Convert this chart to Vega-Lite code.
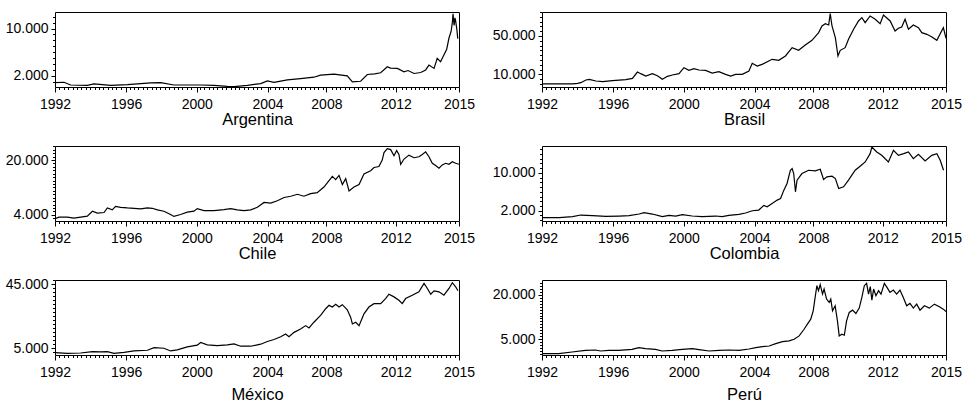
{
"$schema": "https://vega.github.io/schema/vega-lite/v6.json",
"background": "white",
"padding": {"left": 4, "top": 4, "right": 5, "bottom": 2},
"datasets": {
"arg": [{"year":1992.00,"valor":858},{"year":1992.51,"valor":915},{"year":1992.89,"valor":458},{"year":1993.84,"valor":400},{"year":1994.22,"valor":630},{"year":1995.17,"valor":400},{"year":1996.12,"valor":515},{"year":1997.45,"valor":800},{"year":1998.02,"valor":858},{"year":1998.77,"valor":458},{"year":1999.53,"valor":458},{"year":2000.29,"valor":458},{"year":2001.05,"valor":400},{"year":2001.81,"valor":230},{"year":2002.19,"valor":173},{"year":2002.95,"valor":400},{"year":2003.71,"valor":687},{"year":2004.09,"valor":1143},{"year":2004.47,"valor":915},{"year":2005.23,"valor":1315},{"year":2005.98,"valor":1543},{"year":2006.74,"valor":1772},{"year":2007.12,"valor":2114},{"year":2007.88,"valor":2286},{"year":2008.64,"valor":2000},{"year":2008.93,"valor":972},{"year":2009.40,"valor":1086},{"year":2009.78,"valor":2228},{"year":2010.20,"valor":2350},{"year":2010.54,"valor":2514},{"year":2010.92,"valor":3542},{"year":2011.10,"valor":3300},{"year":2011.49,"valor":3256},{"year":2011.87,"valor":2685},{"year":2012.10,"valor":2900},{"year":2012.44,"valor":2400},{"year":2012.82,"valor":2571},{"year":2013.10,"valor":3000},{"year":2013.29,"valor":3827},{"year":2013.58,"valor":3256},{"year":2013.76,"valor":4969},{"year":2013.95,"valor":4400},{"year":2014.14,"valor":5540},{"year":2014.30,"valor":6500},{"year":2014.43,"valor":8395},{"year":2014.55,"valor":9500},{"year":2014.62,"valor":11000},{"year":2014.66,"valor":12506},{"year":2014.72,"valor":10500},{"year":2014.77,"valor":11800},{"year":2014.81,"valor":11250},{"year":2014.88,"valor":9800},{"year":2014.93,"valor":8300}],
"bra": [{"year":1992.00,"valor":50},{"year":1992.98,"valor":60},{"year":1993.74,"valor":150},{"year":1994.03,"valor":500},{"year":1994.21,"valor":1300},{"year":1994.50,"valor":4090},{"year":1994.69,"valor":4780},{"year":1995.07,"valor":3040},{"year":1995.45,"valor":2350},{"year":1996.01,"valor":3390},{"year":1996.77,"valor":4430},{"year":1997.15,"valor":5830},{"year":1997.43,"valor":12430},{"year":1997.62,"valor":10700},{"year":1997.91,"valor":8260},{"year":1998.28,"valor":10700},{"year":1998.57,"valor":8610},{"year":1998.85,"valor":4780},{"year":1999.14,"valor":7910},{"year":1999.42,"valor":9300},{"year":1999.80,"valor":10700},{"year":2000.08,"valor":16960},{"year":2000.37,"valor":14170},{"year":2000.65,"valor":15910},{"year":2000.93,"valor":14520},{"year":2001.31,"valor":14170},{"year":2001.69,"valor":11390},{"year":2002.07,"valor":12780},{"year":2002.45,"valor":10000},{"year":2002.74,"valor":8260},{"year":2003.02,"valor":10000},{"year":2003.40,"valor":10000},{"year":2003.78,"valor":13480},{"year":2003.97,"valor":21480},{"year":2004.25,"valor":18700},{"year":2004.53,"valor":20430},{"year":2004.91,"valor":23910},{"year":2005.10,"valor":25650},{"year":2005.48,"valor":24610},{"year":2005.86,"valor":29130},{"year":2006.24,"valor":37820},{"year":2006.61,"valor":35040},{"year":2006.99,"valor":40610},{"year":2007.37,"valor":45480},{"year":2007.75,"valor":53480},{"year":2007.94,"valor":60430},{"year":2008.13,"valor":62870},{"year":2008.32,"valor":61470},{"year":2008.41,"valor":73300},{"year":2008.51,"valor":60430},{"year":2008.70,"valor":48260},{"year":2008.85,"valor":29130},{"year":2008.98,"valor":35040},{"year":2009.26,"valor":37820},{"year":2009.45,"valor":46520},{"year":2009.74,"valor":56950},{"year":2010.02,"valor":65650},{"year":2010.21,"valor":69130},{"year":2010.40,"valor":63910},{"year":2010.68,"valor":70870},{"year":2010.97,"valor":67390},{"year":2011.25,"valor":62870},{"year":2011.44,"valor":71910},{"year":2011.82,"valor":65650},{"year":2012.10,"valor":55210},{"year":2012.29,"valor":58000},{"year":2012.48,"valor":59390},{"year":2012.67,"valor":67390},{"year":2012.86,"valor":56950},{"year":2013.14,"valor":61470},{"year":2013.43,"valor":58690},{"year":2013.62,"valor":53480},{"year":2013.91,"valor":51740},{"year":2014.20,"valor":48950},{"year":2014.48,"valor":45480},{"year":2014.75,"valor":55210},{"year":2014.85,"valor":58690},{"year":2015.00,"valor":47560}],
"chi": [{"year":1992.00,"valor":2860},{"year":1992.23,"valor":3330},{"year":1992.70,"valor":3330},{"year":1993.08,"valor":3050},{"year":1993.46,"valor":3330},{"year":1993.84,"valor":3620},{"year":1994.13,"valor":5050},{"year":1994.41,"valor":4480},{"year":1994.79,"valor":4670},{"year":1994.98,"valor":6000},{"year":1995.26,"valor":5430},{"year":1995.45,"valor":6480},{"year":1995.74,"valor":6190},{"year":1996.12,"valor":6000},{"year":1996.50,"valor":5900},{"year":1996.88,"valor":5710},{"year":1997.26,"valor":6000},{"year":1997.54,"valor":5900},{"year":1997.83,"valor":5430},{"year":1998.20,"valor":5050},{"year":1998.58,"valor":4100},{"year":1998.77,"valor":3520},{"year":1999.15,"valor":4100},{"year":1999.53,"valor":4760},{"year":1999.91,"valor":5050},{"year":2000.10,"valor":5810},{"year":2000.48,"valor":5240},{"year":2001.05,"valor":5240},{"year":2001.62,"valor":5520},{"year":2002.00,"valor":5810},{"year":2002.38,"valor":5430},{"year":2002.76,"valor":5240},{"year":2003.14,"valor":5430},{"year":2003.52,"valor":6190},{"year":2003.90,"valor":7620},{"year":2004.28,"valor":7430},{"year":2004.66,"valor":8100},{"year":2005.04,"valor":9050},{"year":2005.42,"valor":9430},{"year":2005.80,"valor":10000},{"year":2006.17,"valor":9430},{"year":2006.55,"valor":10190},{"year":2006.93,"valor":10480},{"year":2007.31,"valor":12100},{"year":2007.60,"valor":14000},{"year":2007.79,"valor":15240},{"year":2007.98,"valor":14290},{"year":2008.17,"valor":15520},{"year":2008.36,"valor":12860},{"year":2008.55,"valor":14570},{"year":2008.74,"valor":10950},{"year":2009.02,"valor":12100},{"year":2009.31,"valor":12860},{"year":2009.59,"valor":15900},{"year":2009.97,"valor":16860},{"year":2010.16,"valor":17810},{"year":2010.44,"valor":18100},{"year":2010.63,"valor":20000},{"year":2010.73,"valor":22190},{"year":2010.92,"valor":23330},{"year":2011.11,"valor":23050},{"year":2011.30,"valor":21240},{"year":2011.45,"valor":22760},{"year":2011.58,"valor":21620},{"year":2011.68,"valor":18760},{"year":2011.87,"valor":20290},{"year":2012.15,"valor":21430},{"year":2012.44,"valor":20670},{"year":2012.72,"valor":20950},{"year":2012.91,"valor":21620},{"year":2013.10,"valor":22380},{"year":2013.29,"valor":20950},{"year":2013.48,"valor":19050},{"year":2013.67,"valor":18380},{"year":2013.86,"valor":17620},{"year":2014.05,"valor":18570},{"year":2014.24,"valor":19050},{"year":2014.43,"valor":18760},{"year":2014.62,"valor":19520},{"year":2014.81,"valor":19050},{"year":2015.00,"valor":18760}],
"col": [{"year":1992.00,"valor":526},{"year":1992.98,"valor":526},{"year":1993.74,"valor":737},{"year":1994.21,"valor":1088},{"year":1994.88,"valor":947},{"year":1995.63,"valor":807},{"year":1996.39,"valor":877},{"year":1996.96,"valor":947},{"year":1997.53,"valor":1298},{"year":1997.81,"valor":1579},{"year":1998.28,"valor":1298},{"year":1998.85,"valor":737},{"year":1999.23,"valor":1017},{"year":1999.61,"valor":877},{"year":1999.99,"valor":1158},{"year":2000.55,"valor":877},{"year":2001.12,"valor":737},{"year":2001.88,"valor":877},{"year":2002.26,"valor":737},{"year":2002.64,"valor":1017},{"year":2003.21,"valor":1228},{"year":2003.59,"valor":1509},{"year":2003.97,"valor":2000},{"year":2004.34,"valor":2140},{"year":2004.63,"valor":3123},{"year":2004.82,"valor":2842},{"year":2005.10,"valor":3544},{"year":2005.39,"valor":4246},{"year":2005.58,"valor":4597},{"year":2005.77,"valor":6351},{"year":2005.95,"valor":7755},{"year":2006.14,"valor":10562},{"year":2006.24,"valor":10913},{"year":2006.33,"valor":9860},{"year":2006.43,"valor":6000},{"year":2006.52,"valor":8457},{"year":2006.80,"valor":9860},{"year":2007.18,"valor":10562},{"year":2007.56,"valor":10422},{"year":2007.84,"valor":10773},{"year":2008.03,"valor":8597},{"year":2008.22,"valor":9158},{"year":2008.51,"valor":9299},{"year":2008.70,"valor":8807},{"year":2008.89,"valor":6702},{"year":2009.17,"valor":7053},{"year":2009.45,"valor":8457},{"year":2009.83,"valor":10562},{"year":2010.11,"valor":11404},{"year":2010.40,"valor":12316},{"year":2010.68,"valor":14071},{"year":2010.78,"valor":15475},{"year":2011.06,"valor":14422},{"year":2011.34,"valor":13720},{"year":2011.72,"valor":12316},{"year":2012.01,"valor":14773},{"year":2012.29,"valor":13720},{"year":2012.59,"valor":14071},{"year":2012.86,"valor":14422},{"year":2013.14,"valor":13018},{"year":2013.43,"valor":13931},{"year":2013.81,"valor":12527},{"year":2014.19,"valor":13720},{"year":2014.48,"valor":14071},{"year":2014.67,"valor":12667},{"year":2014.86,"valor":10562}],
"mex": [{"year":1992.00,"valor":2260},{"year":1992.70,"valor":1840},{"year":1993.46,"valor":2050},{"year":1994.13,"valor":2900},{"year":1994.60,"valor":2680},{"year":1994.98,"valor":2900},{"year":1995.36,"valor":1840},{"year":1995.93,"valor":2470},{"year":1996.50,"valor":3320},{"year":1997.26,"valor":3740},{"year":1997.64,"valor":5420},{"year":1998.20,"valor":5000},{"year":1998.58,"valor":3320},{"year":1998.96,"valor":3950},{"year":1999.53,"valor":5840},{"year":2000.10,"valor":6890},{"year":2000.29,"valor":8580},{"year":2000.67,"valor":7110},{"year":2001.24,"valor":6680},{"year":2001.81,"valor":7110},{"year":2002.19,"valor":7740},{"year":2002.57,"valor":6260},{"year":2003.14,"valor":6260},{"year":2003.71,"valor":7530},{"year":2004.09,"valor":9210},{"year":2004.47,"valor":10470},{"year":2004.85,"valor":12160},{"year":2005.13,"valor":13840},{"year":2005.32,"valor":12160},{"year":2005.61,"valor":14890},{"year":2005.98,"valor":17000},{"year":2006.27,"valor":19100},{"year":2006.46,"valor":17630},{"year":2006.74,"valor":21210},{"year":2007.12,"valor":25420},{"year":2007.41,"valor":29630},{"year":2007.60,"valor":31730},{"year":2007.79,"valor":30680},{"year":2007.98,"valor":32370},{"year":2008.17,"valor":30680},{"year":2008.36,"valor":32150},{"year":2008.64,"valor":29000},{"year":2008.83,"valor":24370},{"year":2008.93,"valor":20160},{"year":2009.12,"valor":21210},{"year":2009.31,"valor":19100},{"year":2009.59,"valor":26470},{"year":2009.87,"valor":30680},{"year":2010.16,"valor":32790},{"year":2010.54,"valor":32790},{"year":2010.82,"valor":35940},{"year":2011.01,"valor":38680},{"year":2011.30,"valor":37000},{"year":2011.58,"valor":34890},{"year":2011.77,"valor":32790},{"year":2011.96,"valor":35940},{"year":2012.34,"valor":38050},{"year":2012.72,"valor":40150},{"year":2013.01,"valor":45420},{"year":2013.20,"valor":42260},{"year":2013.39,"valor":38680},{"year":2013.58,"valor":40790},{"year":2013.86,"valor":40150},{"year":2014.14,"valor":38050},{"year":2014.43,"valor":42260},{"year":2014.62,"valor":45840},{"year":2014.81,"valor":43310},{"year":2014.94,"valor":40790}],
"per": [{"year":1992.00,"valor":150},{"year":1992.95,"valor":150},{"year":1993.71,"valor":710},{"year":1994.47,"valor":1280},{"year":1995.04,"valor":1390},{"year":1995.33,"valor":1050},{"year":1995.80,"valor":1280},{"year":1996.37,"valor":1280},{"year":1997.13,"valor":1620},{"year":1997.51,"valor":2180},{"year":1997.89,"valor":1840},{"year":1998.46,"valor":1620},{"year":1998.84,"valor":1050},{"year":1999.41,"valor":1280},{"year":1999.98,"valor":1620},{"year":2000.56,"valor":1840},{"year":2000.94,"valor":1500},{"year":2001.51,"valor":1050},{"year":2002.08,"valor":1280},{"year":2002.65,"valor":1390},{"year":2003.22,"valor":1280},{"year":2003.79,"valor":1730},{"year":2004.17,"valor":2180},{"year":2004.55,"valor":2520},{"year":2004.93,"valor":2740},{"year":2005.31,"valor":3530},{"year":2005.69,"valor":4210},{"year":2006.07,"valor":4440},{"year":2006.35,"valor":5000},{"year":2006.64,"valor":6130},{"year":2006.92,"valor":8380},{"year":2007.11,"valor":10080},{"year":2007.30,"valor":11770},{"year":2007.44,"valor":14590},{"year":2007.55,"valor":19100},{"year":2007.65,"valor":23050},{"year":2007.74,"valor":21360},{"year":2007.84,"valor":23390},{"year":2007.97,"valor":20230},{"year":2008.06,"valor":21920},{"year":2008.20,"valor":18540},{"year":2008.35,"valor":17410},{"year":2008.44,"valor":18540},{"year":2008.54,"valor":14590},{"year":2008.69,"valor":16280},{"year":2008.82,"valor":11200},{"year":2008.92,"valor":6130},{"year":2009.07,"valor":6690},{"year":2009.21,"valor":6350},{"year":2009.34,"valor":11200},{"year":2009.49,"valor":14020},{"year":2009.68,"valor":14810},{"year":2009.87,"valor":13690},{"year":2010.06,"valor":15490},{"year":2010.21,"valor":19100},{"year":2010.35,"valor":23050},{"year":2010.48,"valor":23840},{"year":2010.59,"valor":20230},{"year":2010.69,"valor":22720},{"year":2010.78,"valor":18200},{"year":2010.88,"valor":21920},{"year":2011.01,"valor":19660},{"year":2011.16,"valor":21360},{"year":2011.30,"valor":20230},{"year":2011.49,"valor":23840},{"year":2011.64,"valor":22490},{"year":2011.81,"valor":20790},{"year":2012.00,"valor":21580},{"year":2012.19,"valor":20230},{"year":2012.38,"valor":21580},{"year":2012.57,"valor":19100},{"year":2012.76,"valor":16280},{"year":2012.95,"valor":17070},{"year":2013.14,"valor":15490},{"year":2013.33,"valor":16840},{"year":2013.52,"valor":14810},{"year":2013.77,"valor":16280},{"year":2014.05,"valor":15490},{"year":2014.34,"valor":16840},{"year":2014.62,"valor":15940},{"year":2014.85,"valor":15150},{"year":2015.00,"valor":14360}]
},
"columns": 2,
"spacing": {"row": 59, "column": 83},
"bounds": "flush",
"concat": [
   {"width": 404, "height": 75, "data": {"name": "arg"},
    "mark": {"type": "line", "color": "#000", "strokeWidth": 1.2, "clip": true},
    "encoding": {
     "x": {"field": "year", "type": "quantitative", "scale": {"domain": [1992, 2015], "nice": false, "zero": false},
      "axis": {"title": "Argentina", "titlePadding": 0, "labelPadding": 5.5,
       "values": [1992,1992.25,1992.5,1992.75,1993,1993.25,1993.5,1993.75,1994,1994.25,1994.5,1994.75,1995,1995.25,1995.5,1995.75,1996.05,1996.25,1996.5,1996.75,1997,1997.25,1997.5,1997.75,1998,1998.25,1998.5,1998.75,1999,1999.25,1999.5,1999.75,2000.07,2000.25,2000.5,2000.75,2001,2001.25,2001.5,2001.75,2002,2002.25,2002.5,2002.75,2003,2003.25,2003.5,2003.75,2004.1,2004.25,2004.5,2004.75,2005,2005.25,2005.5,2005.75,2006,2006.25,2006.5,2006.75,2007,2007.25,2007.45,2007.75,2008,2008.25,2008.5,2008.75,2009,2009.25,2009.5,2009.75,2010,2010.25,2010.5,2010.75,2011,2011.25,2011.4,2011.75,2012,2012.25,2012.5,2012.75,2013,2013.25,2013.5,2013.75,2014,2014.25,2014.5,2014.75,2015],
       "labelExpr": "datum.value == 1992 ? '1992' : datum.value == 1996.05 ? '1996' : datum.value == 2000.07 ? '2000' : datum.value == 2004.1 ? '2004' : datum.value == 2007.45 ? '2008' : datum.value == 2011.4 ? '2012' : datum.value == 2015 ? '2015' : ''",
       "tickSize": {"condition": {"test": "datum.value == 1992 || datum.value == 1996.05 || datum.value == 2000.07 || datum.value == 2004.1 || datum.value == 2007.45 || datum.value == 2011.4 || datum.value == 2015", "value": 5}, "value": 2.5}}},
     "y": {"field": "valor", "type": "quantitative", "scale": {"domain": [116, 12790], "nice": false, "zero": false},
      "axis": {"title": null, "values": [1000,2000,3000,4000,5000,6000,7000,8000,9000,10000,11000,12000],
       "labelExpr": "datum.value == 2000 || datum.value == 10000 ? replace(format(datum.value, ',d'), ',', '.') : ''",
       "tickSize": {"condition": {"test": "datum.value == 2000 || datum.value == 10000", "value": 4}, "value": 2.5}}}
    }},
   {"width": 404, "height": 75, "data": {"name": "bra"},
    "mark": {"type": "line", "color": "#000", "strokeWidth": 1.2, "clip": true},
    "encoding": {
     "x": {"field": "year", "type": "quantitative", "scale": {"domain": [1992, 2015], "nice": false, "zero": false},
      "axis": {"title": "Brasil", "titlePadding": 0, "labelPadding": 5.5,
       "values": [1992,1992.25,1992.5,1992.75,1993,1993.25,1993.5,1993.75,1994,1994.25,1994.5,1994.75,1995,1995.25,1995.5,1995.75,1996.05,1996.25,1996.5,1996.75,1997,1997.25,1997.5,1997.75,1998,1998.25,1998.5,1998.75,1999,1999.25,1999.5,1999.75,2000.07,2000.25,2000.5,2000.75,2001,2001.25,2001.5,2001.75,2002,2002.25,2002.5,2002.75,2003,2003.25,2003.5,2003.75,2004.1,2004.25,2004.5,2004.75,2005,2005.25,2005.5,2005.75,2006,2006.25,2006.5,2006.75,2007,2007.25,2007.45,2007.75,2008,2008.25,2008.5,2008.75,2009,2009.25,2009.5,2009.75,2010,2010.25,2010.5,2010.75,2011,2011.25,2011.4,2011.75,2012,2012.25,2012.5,2012.75,2013,2013.25,2013.5,2013.75,2014,2014.25,2014.5,2014.75,2015],
       "labelExpr": "datum.value == 1992 ? '1992' : datum.value == 1996.05 ? '1996' : datum.value == 2000.07 ? '2000' : datum.value == 2004.1 ? '2004' : datum.value == 2007.45 ? '2008' : datum.value == 2011.4 ? '2012' : datum.value == 2015 ? '2015' : ''",
       "tickSize": {"condition": {"test": "datum.value == 1992 || datum.value == 1996.05 || datum.value == 2000.07 || datum.value == 2004.1 || datum.value == 2007.45 || datum.value == 2011.4 || datum.value == 2015", "value": 5}, "value": 2.5}}},
     "y": {"field": "valor", "type": "quantitative", "scale": {"domain": [-3200, 75000], "nice": false, "zero": false},
      "axis": {"title": null, "values": [0,5000,10000,15000,20000,25000,30000,35000,40000,45000,50000,55000,60000,65000,70000,75000],
       "labelExpr": "datum.value == 10000 || datum.value == 50000 ? replace(format(datum.value, ',d'), ',', '.') : ''",
       "tickSize": {"condition": {"test": "datum.value == 10000 || datum.value == 50000", "value": 4}, "value": 2.5}}}
    }},
   {"width": 404, "height": 75, "data": {"name": "chi"},
    "mark": {"type": "line", "color": "#000", "strokeWidth": 1.2, "clip": true},
    "encoding": {
     "x": {"field": "year", "type": "quantitative", "scale": {"domain": [1992, 2015], "nice": false, "zero": false},
      "axis": {"title": "Chile", "titlePadding": 0, "labelPadding": 5.5,
       "values": [1992,1992.25,1992.5,1992.75,1993,1993.25,1993.5,1993.75,1994,1994.25,1994.5,1994.75,1995,1995.25,1995.5,1995.75,1996.05,1996.25,1996.5,1996.75,1997,1997.25,1997.5,1997.75,1998,1998.25,1998.5,1998.75,1999,1999.25,1999.5,1999.75,2000.07,2000.25,2000.5,2000.75,2001,2001.25,2001.5,2001.75,2002,2002.25,2002.5,2002.75,2003,2003.25,2003.5,2003.75,2004.1,2004.25,2004.5,2004.75,2005,2005.25,2005.5,2005.75,2006,2006.25,2006.5,2006.75,2007,2007.25,2007.45,2007.75,2008,2008.25,2008.5,2008.75,2009,2009.25,2009.5,2009.75,2010,2010.25,2010.5,2010.75,2011,2011.25,2011.4,2011.75,2012,2012.25,2012.5,2012.75,2013,2013.25,2013.5,2013.75,2014,2014.25,2014.5,2014.75,2015],
       "labelExpr": "datum.value == 1992 ? '1992' : datum.value == 1996.05 ? '1996' : datum.value == 2000.07 ? '2000' : datum.value == 2004.1 ? '2004' : datum.value == 2007.45 ? '2008' : datum.value == 2011.4 ? '2012' : datum.value == 2015 ? '2015' : ''",
       "tickSize": {"condition": {"test": "datum.value == 1992 || datum.value == 1996.05 || datum.value == 2000.07 || datum.value == 2004.1 || datum.value == 2007.45 || datum.value == 2011.4 || datum.value == 2015", "value": 5}, "value": 2.5}}},
     "y": {"field": "valor", "type": "quantitative", "scale": {"domain": [2190, 24100], "nice": false, "zero": false},
      "axis": {"title": null, "values": [3000,4000,5000,6000,7000,8000,9000,10000,11000,12000,13000,14000,15000,16000,17000,18000,19000,20000,21000,22000,23000,24000],
       "labelExpr": "datum.value == 4000 || datum.value == 20000 ? replace(format(datum.value, ',d'), ',', '.') : ''",
       "tickSize": {"condition": {"test": "datum.value == 4000 || datum.value == 20000", "value": 4}, "value": 2.5}}}
    }},
   {"width": 404, "height": 75, "data": {"name": "col"},
    "mark": {"type": "line", "color": "#000", "strokeWidth": 1.2, "clip": true},
    "encoding": {
     "x": {"field": "year", "type": "quantitative", "scale": {"domain": [1992, 2015], "nice": false, "zero": false},
      "axis": {"title": "Colombia", "titlePadding": 0, "labelPadding": 5.5,
       "values": [1992,1992.25,1992.5,1992.75,1993,1993.25,1993.5,1993.75,1994,1994.25,1994.5,1994.75,1995,1995.25,1995.5,1995.75,1996.05,1996.25,1996.5,1996.75,1997,1997.25,1997.5,1997.75,1998,1998.25,1998.5,1998.75,1999,1999.25,1999.5,1999.75,2000.07,2000.25,2000.5,2000.75,2001,2001.25,2001.5,2001.75,2002,2002.25,2002.5,2002.75,2003,2003.25,2003.5,2003.75,2004.1,2004.25,2004.5,2004.75,2005,2005.25,2005.5,2005.75,2006,2006.25,2006.5,2006.75,2007,2007.25,2007.45,2007.75,2008,2008.25,2008.5,2008.75,2009,2009.25,2009.5,2009.75,2010,2010.25,2010.5,2010.75,2011,2011.25,2011.4,2011.75,2012,2012.25,2012.5,2012.75,2013,2013.25,2013.5,2013.75,2014,2014.25,2014.5,2014.75,2015],
       "labelExpr": "datum.value == 1992 ? '1992' : datum.value == 1996.05 ? '1996' : datum.value == 2000.07 ? '2000' : datum.value == 2004.1 ? '2004' : datum.value == 2007.45 ? '2008' : datum.value == 2011.4 ? '2012' : datum.value == 2015 ? '2015' : ''",
       "tickSize": {"condition": {"test": "datum.value == 1992 || datum.value == 1996.05 || datum.value == 2000.07 || datum.value == 2004.1 || datum.value == 2007.45 || datum.value == 2011.4 || datum.value == 2015", "value": 5}, "value": 2.5}}},
     "y": {"field": "valor", "type": "quantitative", "scale": {"domain": [-175, 15690], "nice": false, "zero": false},
      "axis": {"title": null, "values": [0,1000,2000,3000,4000,5000,6000,7000,8000,9000,10000,11000,12000,13000,14000,15000],
       "labelExpr": "datum.value == 2000 || datum.value == 10000 ? replace(format(datum.value, ',d'), ',', '.') : ''",
       "tickSize": {"condition": {"test": "datum.value == 2000 || datum.value == 10000", "value": 4}, "value": 2.5}}}
    }},
   {"width": 404, "height": 75, "data": {"name": "mex"},
    "mark": {"type": "line", "color": "#000", "strokeWidth": 1.2, "clip": true},
    "encoding": {
     "x": {"field": "year", "type": "quantitative", "scale": {"domain": [1992, 2015], "nice": false, "zero": false},
      "axis": {"title": "México", "titlePadding": 7, "labelPadding": 5.5,
       "values": [1992,1992.25,1992.5,1992.75,1993,1993.25,1993.5,1993.75,1994,1994.25,1994.5,1994.75,1995,1995.25,1995.5,1995.75,1996.05,1996.25,1996.5,1996.75,1997,1997.25,1997.5,1997.75,1998,1998.25,1998.5,1998.75,1999,1999.25,1999.5,1999.75,2000.07,2000.25,2000.5,2000.75,2001,2001.25,2001.5,2001.75,2002,2002.25,2002.5,2002.75,2003,2003.25,2003.5,2003.75,2004.1,2004.25,2004.5,2004.75,2005,2005.25,2005.5,2005.75,2006,2006.25,2006.5,2006.75,2007,2007.25,2007.45,2007.75,2008,2008.25,2008.5,2008.75,2009,2009.25,2009.5,2009.75,2010,2010.25,2010.5,2010.75,2011,2011.25,2011.4,2011.75,2012,2012.25,2012.5,2012.75,2013,2013.25,2013.5,2013.75,2014,2014.25,2014.5,2014.75,2015],
       "labelExpr": "datum.value == 1992 ? '1992' : datum.value == 1996.05 ? '1996' : datum.value == 2000.07 ? '2000' : datum.value == 2004.1 ? '2004' : datum.value == 2007.45 ? '2008' : datum.value == 2011.4 ? '2012' : datum.value == 2015 ? '2015' : ''",
       "tickSize": {"condition": {"test": "datum.value == 1992 || datum.value == 1996.05 || datum.value == 2000.07 || datum.value == 2004.1 || datum.value == 2007.45 || datum.value == 2011.4 || datum.value == 2015", "value": 5}, "value": 2.5}}},
     "y": {"field": "valor", "type": "quantitative", "scale": {"domain": [790, 47520], "nice": false, "zero": false},
      "axis": {"title": null, "values": [2500,5000,7500,10000,12500,15000,17500,20000,22500,25000,27500,30000,32500,35000,37500,40000,42500,45000,47500],
       "labelExpr": "datum.value == 5000 || datum.value == 45000 ? replace(format(datum.value, ',d'), ',', '.') : ''",
       "tickSize": {"condition": {"test": "datum.value == 5000 || datum.value == 45000", "value": 4}, "value": 2.5}}}
    }},
   {"width": 404, "height": 75, "data": {"name": "per"},
    "mark": {"type": "line", "color": "#000", "strokeWidth": 1.2, "clip": true},
    "encoding": {
     "x": {"field": "year", "type": "quantitative", "scale": {"domain": [1992, 2015], "nice": false, "zero": false},
      "axis": {"title": "Perú", "titlePadding": 7, "labelPadding": 5.5,
       "values": [1992,1992.25,1992.5,1992.75,1993,1993.25,1993.5,1993.75,1994,1994.25,1994.5,1994.75,1995,1995.25,1995.5,1995.75,1996.05,1996.25,1996.5,1996.75,1997,1997.25,1997.5,1997.75,1998,1998.25,1998.5,1998.75,1999,1999.25,1999.5,1999.75,2000.07,2000.25,2000.5,2000.75,2001,2001.25,2001.5,2001.75,2002,2002.25,2002.5,2002.75,2003,2003.25,2003.5,2003.75,2004.1,2004.25,2004.5,2004.75,2005,2005.25,2005.5,2005.75,2006,2006.25,2006.5,2006.75,2007,2007.25,2007.45,2007.75,2008,2008.25,2008.5,2008.75,2009,2009.25,2009.5,2009.75,2010,2010.25,2010.5,2010.75,2011,2011.25,2011.4,2011.75,2012,2012.25,2012.5,2012.75,2013,2013.25,2013.5,2013.75,2014,2014.25,2014.5,2014.75,2015],
       "labelExpr": "datum.value == 1992 ? '1992' : datum.value == 1996.05 ? '1996' : datum.value == 2000.07 ? '2000' : datum.value == 2004.1 ? '2004' : datum.value == 2007.45 ? '2008' : datum.value == 2011.4 ? '2012' : datum.value == 2015 ? '2015' : ''",
       "tickSize": {"condition": {"test": "datum.value == 1992 || datum.value == 1996.05 || datum.value == 2000.07 || datum.value == 2004.1 || datum.value == 2007.45 || datum.value == 2011.4 || datum.value == 2015", "value": 5}, "value": 2.5}}},
     "y": {"field": "valor", "type": "quantitative", "scale": {"domain": [-300, 24970], "nice": false, "zero": false},
      "axis": {"title": null, "values": [0,1000,2000,3000,4000,5000,6000,7000,8000,9000,10000,11000,12000,13000,14000,15000,16000,17000,18000,19000,20000,21000,22000,23000,24000],
       "labelExpr": "datum.value == 5000 || datum.value == 20000 ? replace(format(datum.value, ',d'), ',', '.') : ''",
       "tickSize": {"condition": {"test": "datum.value == 5000 || datum.value == 20000", "value": 4}, "value": 2.5}}}
    }}
],
"config": {
 "view": {"stroke": "#000", "strokeWidth": 1},
 "axis": {"domain": false, "grid": false, "labelFont": "Liberation Sans", "labelFontSize": 14, "labelColor": "#000", "labelPadding": 3, "labelOverlap": false, "labelFlush": false, "labelBound": false, "tickColor": "#000", "tickWidth": 1, "titleFont": "Liberation Sans", "titleFontSize": 16.5, "titleFontWeight": "normal", "titleColor": "#000"}
}
}
